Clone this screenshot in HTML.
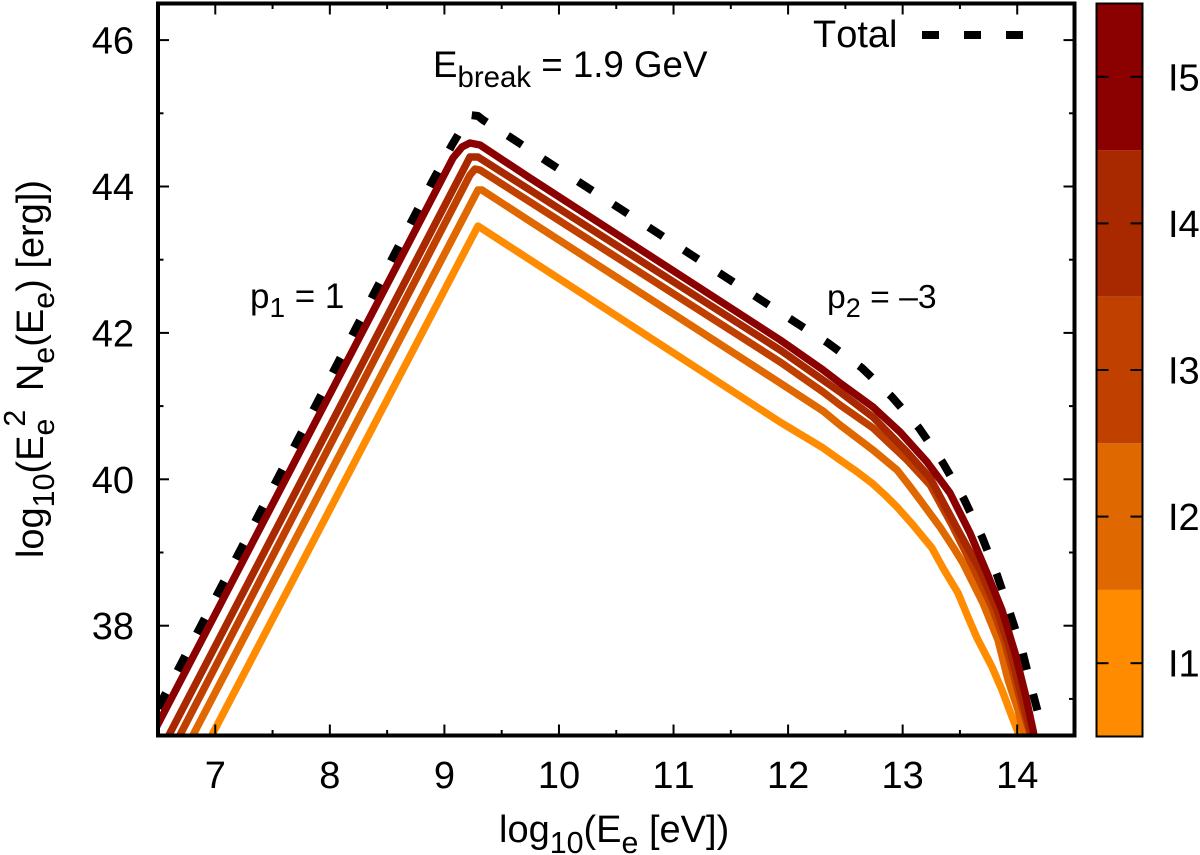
<!DOCTYPE html>
<html lang="en">
<head>
<meta charset="utf-8">
<title>Electron energy spectrum</title>
<style>
html,body{margin:0;padding:0;background:#fff;}
svg{display:block;}
text{font-family:"Liberation Sans",sans-serif;fill:#000;font-kerning:none;}
</style>
</head>
<body>
<svg id="chart" xmlns="http://www.w3.org/2000/svg" width="1200" height="855" viewBox="0 0 1200 855">
  <defs><clipPath id="plot-clip"><rect x="158" y="3.5" width="916.5" height="732"/></clipPath></defs>
  <rect width="1200" height="855" fill="#fff"/>
  <g id="series-layer" clip-path="url(#plot-clip)"></g>
  <g id="axis-layer"></g>
  <rect x="158" y="3.5" width="916.5" height="732" fill="none" stroke="#000" stroke-width="4"/>
  <text x="499" y="842" font-size="38">log<tspan font-size="30.4" dy="11">10</tspan><tspan dy="-11">(E</tspan><tspan font-size="30.4" dy="11">e</tspan><tspan dy="-11"> [eV])</tspan></text>
  <text transform="translate(43,369) rotate(-90)" text-anchor="middle" font-size="38">log<tspan font-size="30.4" dy="11">10</tspan><tspan dy="-11">(E</tspan><tspan font-size="30.4" dy="11">e</tspan><tspan font-size="30.4" dx="-8" dy="-29">2</tspan><tspan dx="8" dy="18"> N</tspan><tspan font-size="30.4" dy="11">e</tspan><tspan dy="-11">(E</tspan><tspan font-size="30.4" dy="11">e</tspan><tspan dy="-11">) [erg])</tspan></text>
  <text x="433" y="77" font-size="36.7">E<tspan font-size="29.4" dy="10">break</tspan><tspan dy="-10"> = 1.9 GeV</tspan></text>
  <text x="250" y="308" font-size="35">p<tspan font-size="28" dy="9">1</tspan><tspan dy="-9"> = 1</tspan></text>
  <text x="827" y="308" font-size="33.7">p<tspan font-size="27" dy="9">2</tspan><tspan dy="-9"> = –3</tspan></text>
  <text x="813" y="47" font-size="38">Total</text>
  <line x1="922" y1="35" x2="1026" y2="35" stroke="#000" stroke-width="8" stroke-dasharray="17 25"/>
  <g id="colorbar"></g>
</svg>
<script>
// Axis tick labels and domains
const xDomain = [6.5, 14.5];
const yDomain = [36.5, 46.5];
const xMajorTicks = [7, 8, 9, 10, 11, 12, 13, 14];
const xMinorTicks = [7.5, 8.5, 9.5, 10.5, 11.5, 12.5, 13.5];
const yMajorTicks = [38, 40, 42, 44, 46];
const yMinorTicks = [37, 39, 41, 43, 45];

// Series values: log10 energy, log10 E^2 N
const i1X = [6.971, 9.293, 11.93, 12.305, 12.453, 12.593, 12.741, 12.846, 12.951, 13.09, 13.256, 13.352, 13.483, 13.57, 13.649, 13.78, 13.867, 13.955, 14.007, 14.05];
const i1Y = [36.507, 43.46, 40.782, 40.428, 40.264, 40.113, 39.936, 39.785, 39.622, 39.376, 39.061, 38.788, 38.447, 38.119, 37.832, 37.436, 37.122, 36.753, 36.548, 36.3];
const i2X = [6.806, 9.293, 9.328, 9.747, 11.93, 12.305, 12.453, 12.741, 12.951, 13.047, 13.152, 13.326, 13.457, 13.527, 13.701, 13.832, 13.92, 14.007, 14.05, 14.09];
const i2Y = [36.507, 43.952, 43.952, 43.525, 41.316, 40.933, 40.742, 40.4, 40.127, 39.936, 39.717, 39.348, 39.034, 38.856, 38.31, 37.805, 37.258, 36.848, 36.575, 36.3];
const i3X = [6.692, 9.223, 9.267, 9.311, 9.747, 11.93, 12.305, 12.453, 12.741, 13.038, 13.24, 13.431, 13.614, 13.78, 13.893, 13.981, 14.05, 14.103, 14.14];
const i3Y = [36.507, 44.157, 44.239, 44.225, 43.79, 41.603, 41.193, 41.015, 40.701, 40.264, 39.922, 39.376, 38.802, 38.256, 37.764, 37.258, 36.848, 36.575, 36.3];
const i4X = [6.596, 9.223, 9.293, 9.747, 11.93, 12.453, 12.741, 13.038, 13.24, 13.483, 13.675, 13.824, 13.937, 14.024, 14.112, 14.15];
const i4Y = [36.507, 44.403, 44.403, 43.952, 41.767, 41.193, 40.851, 40.373, 40.018, 39.307, 38.761, 38.214, 37.668, 37.122, 36.575, 36.3];
const i5X = [6.45, 6.5, 9.075, 9.154, 9.223, 9.311, 9.747, 11.93, 12.305, 12.453, 12.741, 12.977, 13.213, 13.413, 13.588, 13.736, 13.867, 13.981, 14.068, 14.138, 14.17];
const i5Y = [36.51, 36.657, 44.39, 44.54, 44.595, 44.567, 44.116, 41.904, 41.494, 41.316, 40.988, 40.646, 40.236, 39.813, 39.266, 38.72, 38.214, 37.627, 37.081, 36.575, 36.3];
const totalX = [6.387, 8.892, 9.066, 9.223, 9.293, 9.337, 9.599, 9.904, 12.06, 12.348, 12.645, 12.907, 13.143, 13.352, 13.535, 13.693, 13.824, 13.928, 14.042, 14.129, 14.217, 14.25];
const totalY = [36.534, 44.061, 44.567, 44.977, 44.963, 44.909, 44.649, 44.335, 42.149, 41.862, 41.521, 41.125, 40.701, 40.223, 39.731, 39.212, 38.692, 38.214, 37.668, 37.122, 36.602, 36.3];

// Colorbar categories
const colorbarLabels = ['I1', 'I2', 'I3', 'I4', 'I5'];
const seriesColors = ['#ff8c00', '#e06800', '#c04000', '#a82800', '#8b0000'];

const NS = 'http://www.w3.org/2000/svg';
const frame = {left: 158, right: 1074.5, top: 3.5, bottom: 735.5};
function xScale(v) { return frame.left + (v - xDomain[0]) / (xDomain[1] - xDomain[0]) * (frame.right - frame.left); }
function yScale(v) { return frame.bottom - (v - yDomain[0]) / (yDomain[1] - yDomain[0]) * (frame.bottom - frame.top); }
function make(tag, attrs, parent) {
  const el = document.createElementNS(NS, tag);
  for (const k in attrs) el.setAttribute(k, attrs[k]);
  parent.appendChild(el);
  return el;
}
function pathFrom(xs, ys) {
  return xs.map((x, i) => (i ? 'L' : 'M') + xScale(x).toFixed(2) + ' ' + yScale(ys[i]).toFixed(2)).join(' ');
}

const seriesLayer = document.getElementById('series-layer');
const axisLayer = document.getElementById('axis-layer');
const colorbar = document.getElementById('colorbar');

// total (dashed) is under the coloured curves
const totalLine = make('path', {d: pathFrom(totalX, totalY), fill: 'none', stroke: '#000', 'stroke-width': 8, 'stroke-dasharray': '17 25', 'stroke-dashoffset': 13.9, 'stroke-linejoin': 'round'}, seriesLayer);



const seriesX = [i1X, i2X, i3X, i4X, i5X];
const seriesY = [i1Y, i2Y, i3Y, i4Y, i5Y];
seriesX.forEach((xs, i) => {
  const p = make('path', {d: pathFrom(xs, seriesY[i]), fill: 'none', stroke: seriesColors[i], 'stroke-width': 7.4, 'stroke-linejoin': 'round'}, seriesLayer);
  
  
});

function addTick(x1, y1, x2, y2, name) {
  const t = make('line', {x1: x1, y1: y1, x2: x2, y2: y2, stroke: '#000', 'stroke-width': 2}, axisLayer);
  
  
}
function addText(x, y, str, anchor, name, parent) {
  const t = make('text', {x: x, y: y, 'font-size': 38, 'text-anchor': anchor}, parent);
  t.textContent = str;
  
  
}
xMajorTicks.forEach(v => {
  const x = xScale(v);
  addTick(x, frame.bottom, x, frame.bottom - 11, 'x-major-tick');
  addTick(x, frame.top, x, frame.top + 11, 'x-major-tick-top');
  addText(x, 788, String(v), 'middle', 'x-tick-label', axisLayer);
});
xMinorTicks.forEach(v => {
  const x = xScale(v);
  addTick(x, frame.bottom, x, frame.bottom - 5.5, 'x-minor-tick');
  addTick(x, frame.top, x, frame.top + 5.5, 'x-minor-tick-top');
});
yMajorTicks.forEach(v => {
  const y = yScale(v);
  addTick(frame.left, y, frame.left + 11, y, 'y-major-tick');
  addTick(frame.right, y, frame.right - 11, y, 'y-major-tick-right');
  addText(134, y + 13.5, String(v), 'end', 'y-tick-label', axisLayer);
});
yMinorTicks.forEach(v => {
  const y = yScale(v);
  addTick(frame.left, y, frame.left + 5.5, y, 'y-minor-tick');
  addTick(frame.right, y, frame.right - 5.5, y, 'y-minor-tick-right');
});

// Colorbar: one band per category, first category at the bottom
const cbTop = 3.5, cbBottom = 736.5, cbLeft = 1096.5, cbRight = 1142.5;
const bandH = (cbBottom - cbTop) / colorbarLabels.length;
colorbarLabels.forEach((label, i) => {
  const top = cbBottom - bandH * (i + 1);
  const r = make('rect', {x: cbLeft, y: top, width: cbRight - cbLeft, height: bandH, fill: seriesColors[i]}, colorbar);
  
  
  const mid = top + bandH / 2;
  const t1 = make('line', {x1: cbLeft, y1: mid, x2: cbLeft + 12, y2: mid, stroke: '#000', 'stroke-width': 2}, colorbar);
  
  
  const t2 = make('line', {x1: cbRight, y1: mid, x2: cbRight - 12, y2: mid, stroke: '#000', 'stroke-width': 2}, colorbar);
  
  
  addText(1168, mid + 13.5, label, 'start', 'colorbar-label', colorbar);
});
const cbFrame = make('rect', {x: cbLeft, y: cbTop, width: cbRight - cbLeft, height: cbBottom - cbTop, fill: 'none', stroke: '#000', 'stroke-width': 2}, colorbar);


</script>
</body>
</html>
